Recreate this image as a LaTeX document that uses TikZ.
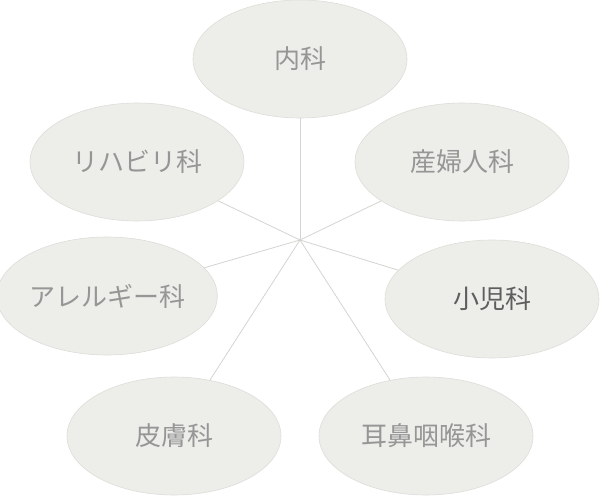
\documentclass[tikz,border=0pt]{standalone}
\usepackage{fontspec}
\newfontfamily\jpfont{Noto Sans CJK JP}
\usetikzlibrary{shapes.geometric}
\definecolor{ellfill}{HTML}{EDEDEA}
\definecolor{ellline}{HTML}{DDDDD9}
\definecolor{linkcol}{HTML}{D4D4D0}
\definecolor{txtgray}{HTML}{969696}
\definecolor{txtdark}{HTML}{5E5E5E}
\tikzset{
  dept/.style={ellipse, fill=ellfill, draw=ellline, line width=0.6pt,
    minimum width=214pt, minimum height=118pt, inner sep=0pt,
    font=\jpfont\fontsize{26}{30}\selectfont, text=txtgray},
  deptdark/.style={dept, text=txtdark},
  link/.style={draw=linkcol, line width=0.8pt}
}
\begin{document}
\begin{tikzpicture}[x=1pt,y=-1pt]
\useasboundingbox[fill=white] (0,0) rectangle (600,500);
\coordinate (c) at (300,240);
\node[dept] (naika) at (300,59) {内科};
\node[dept] (reha) at (137,162) {リハビリ科};
\node[dept] (sanfu) at (462,162) {産婦人科};
\node[dept] (allergy) at (107,296) {アレルギー科};
\node[deptdark] (shoni) at (492,299) {小児科};
\node[dept] (hifu) at (174,436) {皮膚科};
\node[dept] (jibi) at (426,436) {耳鼻咽喉科};
\foreach \n in {naika,reha,sanfu,allergy,shoni,hifu,jibi}
  \draw[link] (c) -- (\n);
\end{tikzpicture}
\end{document}
